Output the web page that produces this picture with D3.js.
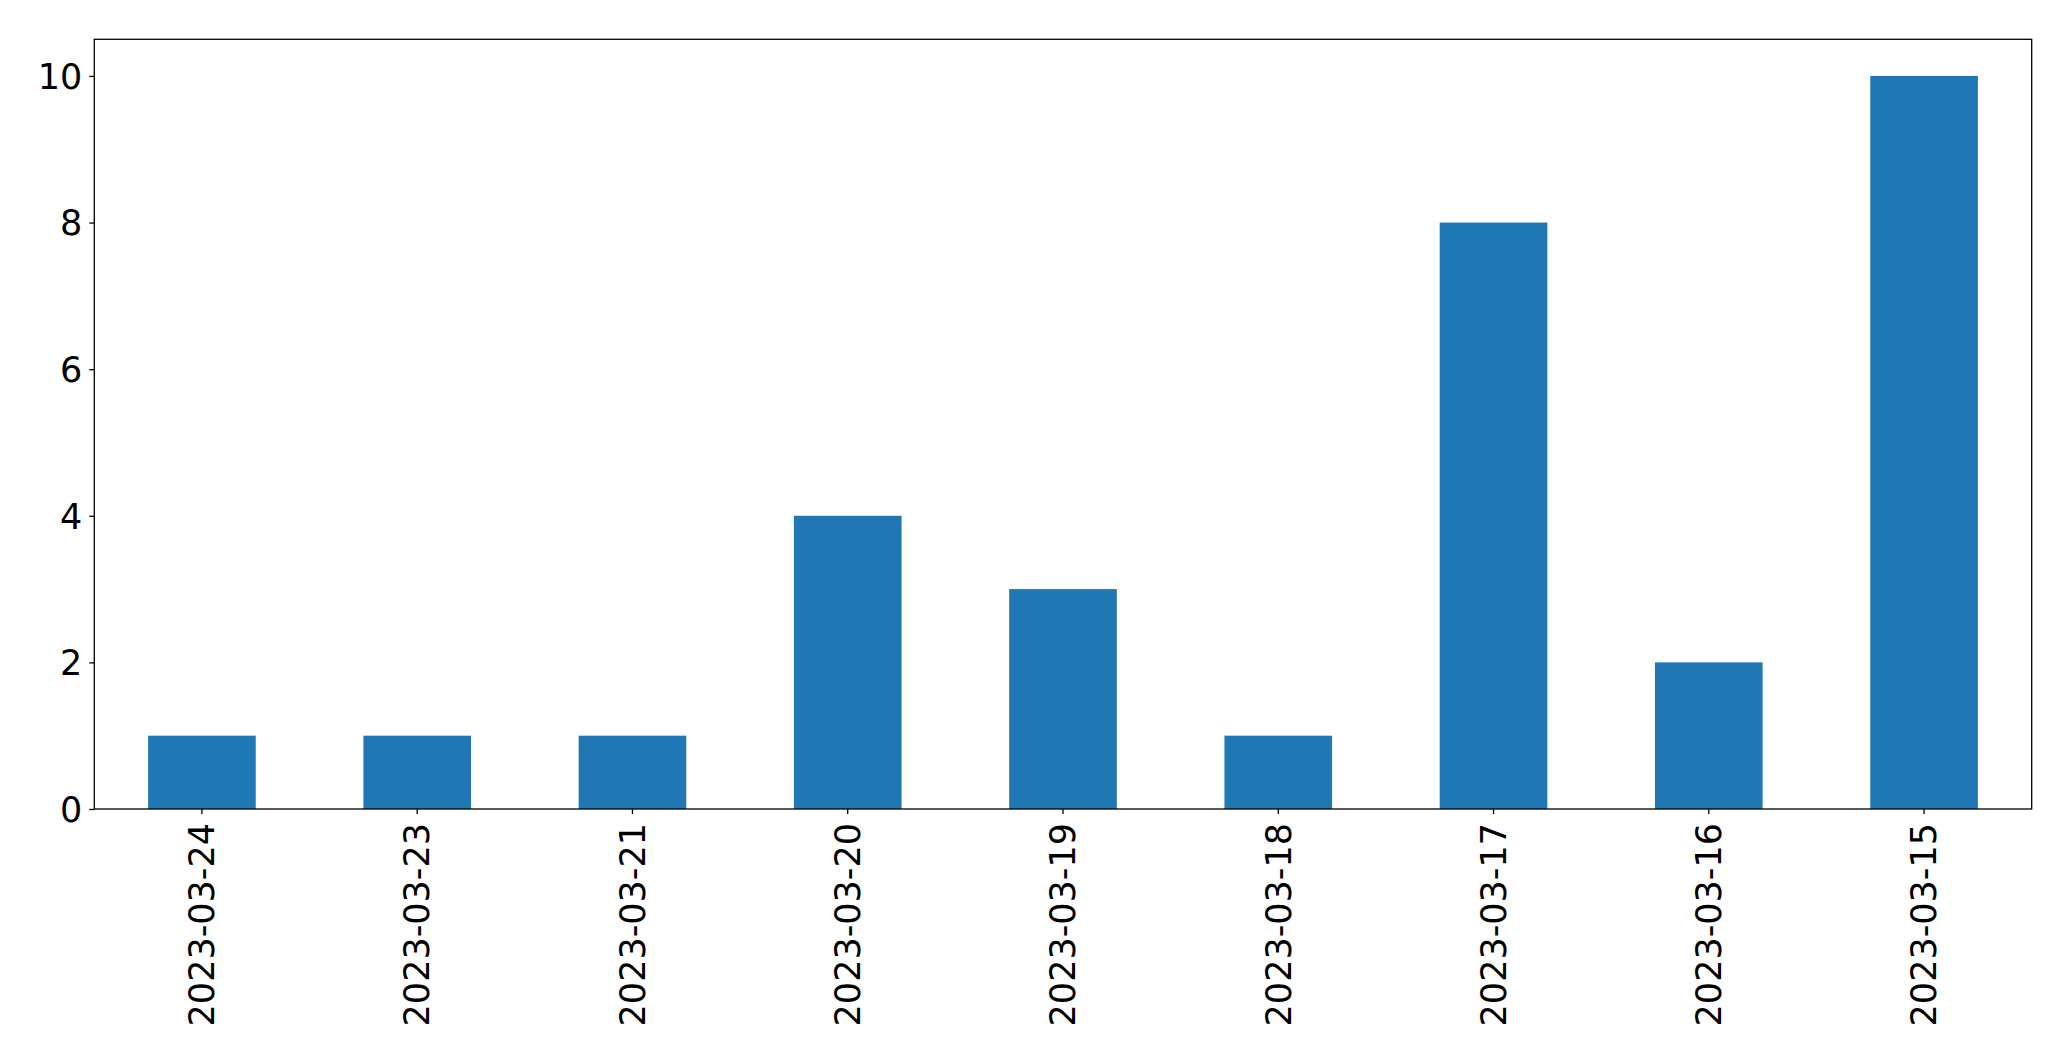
<!DOCTYPE html>
<html><head><meta charset="utf-8">
<script src="https://cdn.jsdelivr.net/npm/d3@7"></script>
<style>body{margin:0;background:#fff}svg{display:block}text{font-family:"DejaVu Sans",sans-serif}</style>
</head><body>
<script>
const categories = ["2023-03-24","2023-03-23","2023-03-21","2023-03-20","2023-03-19","2023-03-18","2023-03-17","2023-03-16","2023-03-15"];
const values = [1,1,1,4,3,1,8,2,10];
const yTicks = [0,2,4,6,8,10];

const W = 2071, H = 1061;
const m = {left: 94.3, right: 2031.7, top: 39.3, bottom: 809};
const svg = d3.select("body").append("svg").attr("width", W).attr("height", H);

const x = d3.scaleBand().domain(categories).range([m.left, m.right]).paddingInner(0.5).paddingOuter(0.25);
const y = d3.scaleLinear().domain([0, 10.5]).range([m.bottom, m.top]);

svg.selectAll("rect.bar").data(values).enter().append("rect")
  .attr("class","bar")
  .attr("x",(d,i)=>x(categories[i]))
  .attr("width",x.bandwidth())
  .attr("y",d=>y(d))
  .attr("height",d=>y(0)-y(d))
  .attr("fill","#1f77b4");

const fs = 35;
const yAxis = svg.append("g").attr("transform",`translate(${m.left},0)`)
  .call(d3.axisLeft(y).tickValues(yTicks).tickFormat(d3.format("d")).tickSize(5).tickPadding(7));
const xAxis = svg.append("g").attr("transform",`translate(0,${m.bottom})`)
  .call(d3.axisBottom(x).tickSize(5).tickPadding(0));
[yAxis,xAxis].forEach(g=>{
  g.select(".domain").remove();
  g.selectAll("line").attr("stroke","#000").attr("stroke-width",1.3);
  g.selectAll("text").attr("font-size",fs).attr("fill","#000").attr("font-family","DejaVu Sans");
});
yAxis.selectAll("text").attr("dy","0.35em");
xAxis.selectAll("text")
  .attr("transform","rotate(-90)")
  .attr("text-anchor","end")
  .attr("x",-14)
  .attr("y",0)
  .attr("dy","0.35em");

svg.append("rect").attr("x",m.left).attr("y",m.top)
  .attr("width",m.right-m.left).attr("height",m.bottom-m.top)
  .attr("fill","none").attr("stroke","#000").attr("stroke-width",1.3);
</script>
</body></html>
